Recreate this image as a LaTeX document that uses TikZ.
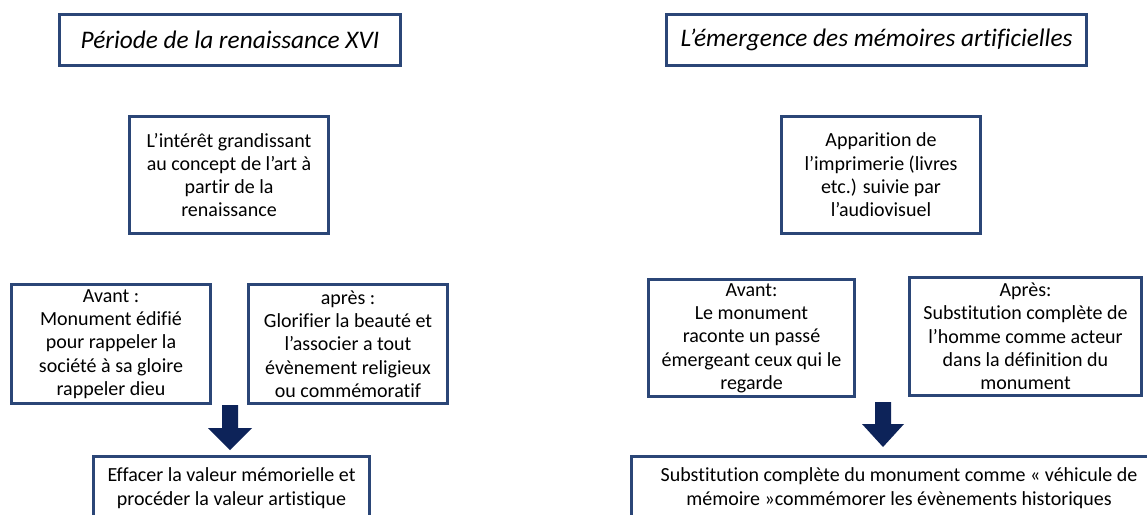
\documentclass[tikz,border=0pt]{standalone}
\usepackage{fontspec}
\setmainfont[Ligatures=NoCommon]{Carlito}
\usetikzlibrary{calc}
\definecolor{bordc}{HTML}{2B4677}
\definecolor{arrc}{HTML}{0D2359}
\begin{document}
\begin{tikzpicture}[x=1pt,y=-1pt,
  box/.style={draw=bordc, line width=3pt, fill=white, align=center, inner sep=0pt,
    font=\fontsize{20}{23.3}\selectfont},
  titlebox/.style={box, font=\fontsize{25.3}{28}\selectfont\itshape},
  openbox/.style={box, anchor=north, inner xsep=0pt, inner ysep=12pt},
  blockarrow/.style={fill=arrc, draw=none}]
\useasboundingbox (0,0) rectangle (1147,514);
\clip (0,0) rectangle (1147,514);
\fill[white] (0,0) rectangle (1147,514);

% titles
\node[titlebox, minimum width=341pt, minimum height=51pt] (tL) at (230,40) {Période de la renaissance XVI};
\node[titlebox, minimum width=420pt, minimum height=51pt] (tR) at (876.5,40) {L’émergence des mémoires artificielles};

% second row
\node[box, minimum width=199pt, minimum height=117pt] (l1) at (229,175)
  {L’intérêt grandissant\\au concept de l’art à\\partir de la\\renaissance};
\node[box, minimum width=199pt, minimum height=117pt] (r1) at (881,175)
  {Apparition de\\l’imprimerie (livres\\etc.) suivie par\\l’audiovisuel};

% third row
\node[box, minimum width=199pt, minimum height=119pt] (la) at (111,344)
  {Avant :\\Monument édifié\\pour rappeler la\\société à sa gloire\\rappeler dieu};
\node[box, minimum width=199pt, minimum height=119pt] (lb) at (348,344)
  {après :\\Glorifier la beauté et\\l’associer a tout\\évènement religieux\\ou commémoratif};
\node[box, minimum width=206pt, minimum height=117pt] (ra) at (751.5,338)
  {Avant:\\Le monument\\raconte un passé\\émergeant ceux qui le\\regarde};
\node[box, minimum width=232pt, minimum height=118pt] (rb) at (1025.5,336.5)
  {Après:\\Substitution complète de\\l’homme comme acteur\\dans la définition du\\monument};

% bottom row (cut by the page edge)
\node[openbox, minimum width=276pt] (lc) at (231.5,454.5)
  {Effacer la valeur mémorielle et\\procéder la valeur artistique\\[6pt]\strut};
\node[openbox, minimum width=535pt] (rc) at (899,454.5)
  {Substitution complète du monument comme « véhicule de\\mémoire »commémorer les évènements historiques\\[6pt]\strut};

% block arrows
\coordinate (aL) at (230,405);
\coordinate (aR) at (883,402);
\fill[blockarrow] ($(aL)+(-8,0)$) -- ($(aL)+(8,0)$) -- ($(aL)+(8,23)$) -- ($(aL)+(22,23)$)
  -- ($(aL)+(0,45)$) -- ($(aL)+(-22,23)$) -- ($(aL)+(-8,23)$) -- cycle;
\fill[blockarrow] ($(aR)+(-8,0)$) -- ($(aR)+(8,0)$) -- ($(aR)+(8,22)$) -- ($(aR)+(21,22)$)
  -- ($(aR)+(0,45)$) -- ($(aR)+(-21,22)$) -- ($(aR)+(-8,22)$) -- cycle;
\end{tikzpicture}
\end{document}
